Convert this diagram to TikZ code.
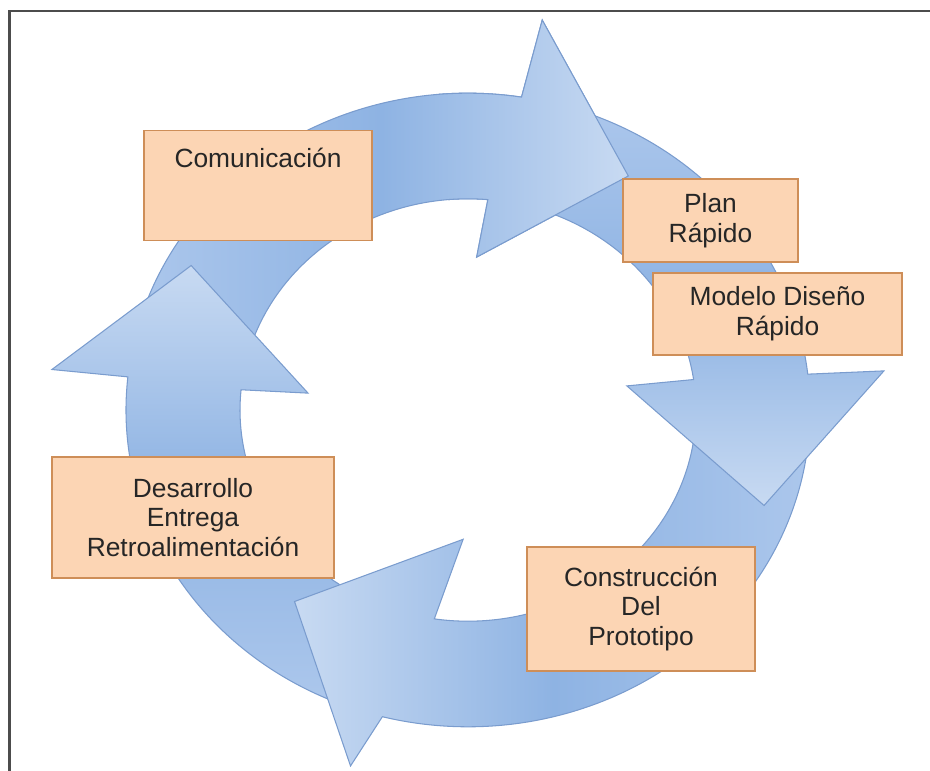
\documentclass[tikz,border=0pt]{standalone}
\usepackage{fontspec}
\setmainfont{Liberation Sans}
\usepackage{tikz}
\definecolor{ringlight}{RGB}{200,218,242}
\definecolor{ringmid}{RGB}{172,199,236}
\definecolor{ringdark}{RGB}{142,179,227}
\definecolor{ringedge}{RGB}{122,156,206}
\definecolor{peach}{RGB}{252,213,180}
\definecolor{peachedge}{RGB}{206,142,88}
% one bent arrow of the cycle: tail angle, outer joint, outer wing, tip, inner wing, inner joint, shading angle
\newcommand{\ringarrow}[7]{%
  \path[ring,shading angle=#7] (#1:1.2) arc[start angle=#1,end angle=#2,radius=1.2] -- #3 -- #4 -- #5 -- (#6:0.8) arc[start angle=#6,end angle=#1,radius=0.8] -- cycle;}

\begin{document}
\begin{tikzpicture}[x=0.02cm,y=0.02cm,
  ring/.style={draw=ringedge,line width=0.6pt,top color=ringlight,bottom color=ringmid,middle color=ringdark},
  box/.style={draw=peachedge,fill=peach,line width=0.8pt,inner sep=0pt,align=center,text=black!85,font=\fontsize{15}{17}\selectfont}]
  % frame is 930 x 771 px, y runs down
  \useasboundingbox (0,0) rectangle (930,-771);
  \clip (0,0) rectangle (930,-771);
  \draw[black!70,line width=1.2pt] (9.5,-11) rectangle (950,-800);
  \begin{scope}[shift={(468,-410)},xscale=285,yscale=264]
    \ringarrow{168}{81}{(80:1.5)}{(57.6:1.05)}{(87:0.58)}{85}{-90}
    \ringarrow{248}{174}{(174:1.468)}{(150.6:1.115)}{(173.5:0.565)}{174.5}{0}
    \ringarrow{1}{-104.5}{(-107:1.41)}{(-130:0.947)}{(-92:0.49)}{-98.5}{90}
    \ringarrow{76}{6.5}{(5.8:1.467)}{(-19.2:1.1)}{(9.3:0.565)}{8.3}{180}
    % head of the top arrow again, over the tail of the right one
    \begin{scope}
      \clip (0,0) -- (50:2) arc[start angle=50,end angle=95,radius=2] -- cycle;
      \ringarrow{168}{81}{(80:1.5)}{(57.6:1.05)}{(87:0.58)}{85}{-90}
    \end{scope}
  \end{scope}
  \node[box,minimum width=4.56cm,text height=0.74cm,text depth=1.46cm,anchor=north] (com) at (258,-130) {Comunicación};
  \node[box,minimum width=3.5cm,minimum height=1.66cm] (plan) at (710.5,-220.5) {Plan\\Rápido};
  \node[box,minimum width=4.98cm,minimum height=1.64cm] (modelo) at (777.5,-314) {Modelo Diseño\\Rápido};
  \node[box,minimum width=5.64cm,minimum height=2.42cm] (desarrollo) at (193,-517.5) {Desarrollo\\Entrega\\Retroalimentación};
  \node[box,minimum width=4.56cm,minimum height=2.48cm] (construccion) at (641,-609) {Construcción\\Del\\Prototipo};
\end{tikzpicture}
\end{document}
